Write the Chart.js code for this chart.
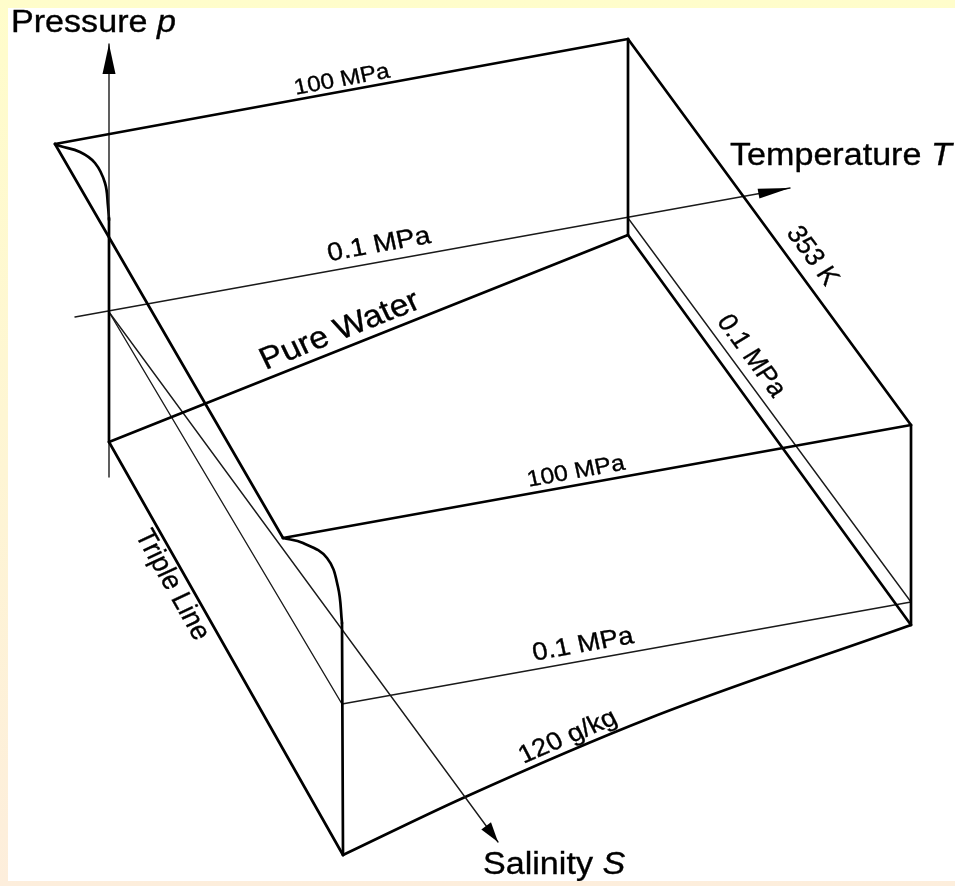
<!DOCTYPE html>
<html lang="en">
<head>
    <meta charset="UTF-8">
    <title>Seawater p-T-S domain</title>
    <style>
        html, body {
            margin: 0;
            padding: 0;
            width: 955px;
            height: 886px;
            overflow: hidden;
            background: linear-gradient(to bottom, #fffdcb, #fdeedc);
        }
        #wrap {
            position: absolute;
            left: 8px;
            top: 8px;
            width: 947px;
            height: 873px;
            background: #ffffff;
        }
    </style>
</head>
<body>
    <div id="wrap"><canvas id="chart"></canvas></div>

    <script src="https://cdn.jsdelivr.net/npm/chart.js"></script>
    <script>
        // vertices, as [x, y] in page pixels
        const topIsobar = [[55, 144], [628, 39]];            // 100 MPa, S = 0
        const backVertical = [[628, 39], [628, 235]];
        const hotIsotherm = [[628, 39], [911, 425]];          // 353 K
        const frontIsobar = [[283, 538], [911, 425]];         // 100 MPa, 120 g/kg
        const leftEdge = [[55, 144], [283, 538]];
        const rightVertical = [[911, 425], [911, 625]];
        const pureWater = [[109, 442], [628, 235]];
        const hotBottom = [[628, 235], [911, 625]];
        const tripleLine = [[109, 442], [343, 855]];
        const salinityEdge = [[343, 855], [463, 798], [650, 718], [911, 625]]; // 120 g/kg
        const frontVertical = [[342, 623], [343, 855]];
        const coldVertical = [[109, 218], [109, 442]];
        const meltBack = [[55, 144], [60, 146], [80, 152], [95, 163], [105, 183], [108, 206], [109, 220]];
        const meltFront = [[283, 538], [303, 543], [327, 558], [338, 587], [342, 623]];

        // thin lines
        const tAxis = [[75, 317], [790, 188]];
        const pAxis = [[109, 477], [109, 44]];
        const sAxis = [[109, 312], [498, 842]];
        const lowHot = [[628, 218], [911, 602]];              // 0.1 MPa, 353 K
        const lowFront = [[342, 704], [911, 602]];            // 0.1 MPa, 120 g/kg
        const lowCold = [[109, 312], [342, 704]];

        const thick = [topIsobar, backVertical, hotIsotherm, frontIsobar, leftEdge, rightVertical,
            pureWater, hotBottom, tripleLine, frontVertical, coldVertical];
        const thin = [tAxis, pAxis, sAxis, lowHot, lowFront, lowCold];
        const curved = [meltBack, meltFront];

        const FONT = '"Liberation Sans", Arial, sans-serif';
        const STRETCH = 1.1;

        // [text, center, line it follows, size]
        const slantLabels = [
            ['100 MPa', [342, 80], topIsobar, 22],
            ['0.1 MPa', [379, 245], tAxis, 25.5],
            ['Pure Water', [340, 331], pureWater, 31],
            ['353 K', [812, 256], hotIsotherm, 25],
            ['0.1 MPa', [751, 356], lowHot, 25],
            ['100 MPa', [576, 472], frontIsobar, 22.5],
            ['Triple Line', [172, 585], tripleLine, 26],
            ['0.1 MPa', [583, 645], lowFront, 25],
            ['120 g/kg', [568, 737], [[463, 798], [650, 718]], 25]
        ];
        // [plain part, italic part, left, baseline, size]
        const axisLabels = [
            ['Pressure ', 'p', 11, 32, 31],
            ['Temperature ', 'T', 730, 165, 31],
            ['Salinity ', 'S', 483, 874, 31]
        ];
        // [axis, head length, head half width]
        const arrows = [[pAxis, 30, 6.5], [tAxis, 32, 5], [sAxis, 20, 6]];

        const toXY = pts => pts.map(p => ({x: p[0], y: p[1]}));

        const datasets = [];
        thick.forEach(seg => datasets.push({data: toXY(seg), borderColor: '#000', borderWidth: 2.7, tension: 0}));
        thin.forEach(seg => datasets.push({data: toXY(seg), borderColor: '#1a1a1a', borderWidth: 1.4, tension: 0}));
        curved.forEach(seg => datasets.push({data: toXY(seg), borderColor: '#000', borderWidth: 2.7, tension: 0.4}));
        datasets.push({data: toXY(salinityEdge), borderColor: '#000', borderWidth: 2.7, cubicInterpolationMode: 'monotone'});

        const drawing = {
            id: 'drawing',
            afterDatasetsDraw(chart) {
                const ctx = chart.ctx;
                const sx = chart.scales.x, sy = chart.scales.y;
                const px = p => [sx.getPixelForValue(p[0]), sy.getPixelForValue(p[1])];

                // arrow heads
                ctx.save();
                ctx.fillStyle = '#000';
                arrows.forEach(([axis, len, half]) => {
                    const a = px(axis[axis.length - 2]), b = px(axis[axis.length - 1]);
                    const dx = b[0] - a[0], dy = b[1] - a[1];
                    const d = Math.hypot(dx, dy), ux = dx / d, uy = dy / d;
                    const bx = b[0] - ux * len, by = b[1] - uy * len;
                    ctx.beginPath();
                    ctx.moveTo(b[0], b[1]);
                    ctx.lineTo(bx - uy * half, by + ux * half);
                    ctx.lineTo(bx + uy * half, by - ux * half);
                    ctx.closePath();
                    ctx.fill();
                });
                ctx.restore();

                // labels along lines
                ctx.save();
                ctx.fillStyle = '#000';
                ctx.strokeStyle = '#000';
                ctx.lineWidth = 0.35;
                ctx.textAlign = 'center';
                ctx.textBaseline = 'middle';
                slantLabels.forEach(([text, at, line, size]) => {
                    const a = px(line[0]), b = px(line[line.length - 1]);
                    const c = px(at);
                    ctx.save();
                    ctx.translate(c[0], c[1]);
                    ctx.scale(STRETCH, 1);
                    ctx.rotate(Math.atan2(b[1] - a[1], (b[0] - a[0]) / STRETCH));
                    ctx.font = size + 'px ' + FONT;
                    ctx.fillText(text, 0, 0);
                    ctx.strokeText(text, 0, 0);
                    ctx.restore();
                });
                ctx.restore();

                // axis names
                ctx.save();
                ctx.fillStyle = '#000';
                ctx.strokeStyle = '#000';
                ctx.lineWidth = 0.35;
                ctx.textAlign = 'left';
                ctx.textBaseline = 'alphabetic';
                axisLabels.forEach(([plain, ital, left, base, size]) => {
                    const p = px([left, base]);
                    ctx.save();
                    ctx.translate(p[0], p[1]);
                    ctx.scale(STRETCH, 1);
                    ctx.font = size + 'px ' + FONT;
                    ctx.fillText(plain, 0, 0);
                    ctx.strokeText(plain, 0, 0);
                    const w = ctx.measureText(plain).width;
                    ctx.font = 'italic ' + size + 'px ' + FONT;
                    ctx.fillText(ital, w, 0);
                    ctx.strokeText(ital, w, 0);
                    ctx.restore();
                });
                ctx.restore();
            }
        };

        new Chart(document.getElementById('chart'), {
            type: 'scatter',
            data: {datasets: datasets},
            options: {
                responsive: true,
                maintainAspectRatio: false,
                animation: false,
                showLine: true,
                elements: {point: {radius: 0, hoverRadius: 0}, line: {borderCapStyle: 'round', borderJoinStyle: 'round'}},
                layout: {padding: 0},
                scales: {
                    x: {type: 'linear', min: 8, max: 955, display: false},
                    y: {type: 'linear', min: 8, max: 881, reverse: true, display: false}
                },
                plugins: {legend: {display: false}, tooltip: {enabled: false}}
            },
            plugins: [drawing]
        });
    </script>
</body>
</html>
